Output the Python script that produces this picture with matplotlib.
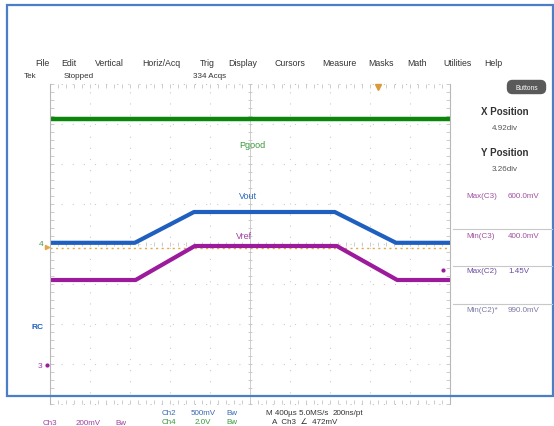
import numpy as np
import matplotlib.pyplot as plt
from matplotlib.patches import Rectangle, FancyBboxPatch

plt.rcParams['font.family'] = ['Liberation Sans', 'DejaVu Sans']

# time in divisions (400us/div), levels in divisions from screen centre
t_pgood = [0, 10]
pgood = [3.12, 3.12]
t_vout = [0, 2.12, 3.6, 7.12, 8.65, 10]
vout = [0.03, 0.03, 0.8, 0.8, 0.03, 0.03]
t_vref = [0, 2.14, 3.62, 7.17, 8.68, 10]
vref = [-0.9, -0.9, -0.05, -0.05, -0.9, -0.9]
trig_level = -0.1

menu = ['File', 'Edit', 'Vertical', 'Horiz/Acq', 'Trig', 'Display',
        'Cursors', 'Measure', 'Masks', 'Math', 'Utilities', 'Help']
menu_x = [42, 69, 109, 161, 207, 243, 290, 339, 381, 417, 457, 493]

meas_names = ['Max(C3)', 'Min(C3)', 'Max(C2)', 'Min(C2)*']
meas_vals = ['600.0mV', '400.0mV', '1.45V', '990.0mV']
meas_y = [197, 237, 272, 311]

GREEN = '#0a860a'
BLUE = '#1e5fbf'
PURPLE = '#9c1a9c'

fig = plt.figure(figsize=(5.54, 4.27), dpi=100)

ax = fig.add_axes([50 / 554, (427 - 405) / 427, 400 / 554, 320 / 427])
ax.set_xlim(0, 10)
ax.set_ylim(-4, 4)
for s in ['top', 'bottom']:
    ax.spines[s].set_visible(False)
for s in ['left', 'right']:
    ax.spines[s].set_color('#b8b8b8')
    ax.spines[s].set_linewidth(0.8)
ax.set_xticks([])
ax.set_yticks([])

# graticule
for x in range(1, 10):
    ax.axvline(x, color='#cccccc', lw=0.8, ls=(0, (1, 9)))
for y in range(-3, 4):
    ax.axhline(y, color='#cccccc', lw=0.8, ls=(0, (1, 9)))
for y in [-4, 4]:
    ax.axhline(y, color='#c0c0c0', lw=0.8, ls=(0, (1, 9)), clip_on=False)
ax.axvline(5, color='#c8c8c8', lw=0.6)
tick_c = '#c4c4c4'
mt = np.arange(0, 10.01, 0.2)
ax.plot(mt, np.full_like(mt, 0.0), '|', color=tick_c, ms=3, mew=0.6)
ax.plot(mt, np.full_like(mt, 3.95), '|', color=tick_c, ms=3, mew=0.6)
ax.plot(mt, np.full_like(mt, -3.95), '|', color=tick_c, ms=3, mew=0.6)
my = np.arange(-4, 4.01, 0.2)
ax.plot(np.full_like(my, 5), my, '_', color=tick_c, ms=3, mew=0.6)
ax.plot(np.full_like(my, 0.05), my, '_', color=tick_c, ms=3, mew=0.6)
ax.plot(np.full_like(my, 9.95), my, '_', color=tick_c, ms=3, mew=0.6)

ax.axhline(trig_level, color='#e0a848', lw=1.0, ls=(0, (1.5, 2.5)))

ax.plot(t_pgood, pgood, color=GREEN, lw=3.2, solid_capstyle='butt')
ax.plot(t_vout, vout, color=BLUE, lw=3.0, solid_capstyle='butt')
ax.plot(t_vref, vref, color=PURPLE, lw=3.0, solid_capstyle='butt')

ax.text(5.05, 2.5, 'Pgood', color='#3a9a3a', fontsize=6.5, ha='center', va='center')
ax.text(4.95, 1.2, 'Vout', color='#2a6ac0', fontsize=6.5, ha='center', va='center')
ax.text(4.85, 0.22, 'Vref', color='#a040a0', fontsize=6.5, ha='center', va='center')

# overlay for the screen furniture
ov = fig.add_axes([0, 0, 1, 1], zorder=5)
ov.set_xlim(0, 554)
ov.set_ylim(427, 0)
ov.axis('off')
ov.patch.set_alpha(0)

ov.add_patch(Rectangle((7, 6), 546, 391, fill=False, ec='#4a7fc8', lw=1.6))

for name, x in zip(menu, menu_x):
    ov.text(x, 63, name, fontsize=6.3, ha='center', va='center', color='#333333')
ov.text(30, 76, 'Tek', fontsize=5.8, ha='center', va='center', color='#333333')
ov.text(79, 76, 'Stopped', fontsize=5.8, ha='center', va='center', color='#333333')
ov.text(210, 76, '334 Acqs', fontsize=5.8, ha='center', va='center', color='#333333')
ov.plot([378], [88], marker='v', color='#d89a3a', ms=4)

ov.add_patch(FancyBboxPatch((510, 84), 33, 8, boxstyle='round,pad=2.5,rounding_size=5',
                            fc='#5a5a5a', ec='#5a5a5a'))
ov.text(526.5, 88, 'Buttons', fontsize=4.8, ha='center', va='center', color='white')
ov.text(505, 112, 'X Position', fontsize=7, ha='center', va='center',
        color='#333333', fontweight='bold')
ov.text(505, 129, '4.92div', fontsize=5.8, ha='center', va='center', color='#555555')
ov.text(505, 153, 'Y Position', fontsize=7, ha='center', va='center',
        color='#333333', fontweight='bold')
ov.text(505, 170, '3.26div', fontsize=5.8, ha='center', va='center', color='#555555')

meas_col = ['#a050a0', '#a050a0', '#6a4aa0', '#7a7aa8']
for name, val, y, c in zip(meas_names, meas_vals, meas_y, meas_col):
    ov.text(466, y, name, fontsize=5.8, ha='left', va='center', color=c)
    ov.text(508, y, val, fontsize=5.8, ha='left', va='center', color=c)
for y in [230, 267, 305]:
    ov.plot([453, 552], [y, y], color='#c8c8c8', lw=0.8)

ov.text(41, 245, '4', fontsize=6, ha='center', va='center', color='#4a9a4a')
ov.plot([47], [248], marker='>', color='#e0a848', ms=3)
ov.text(40, 367, '3', fontsize=6, ha='center', va='center', color='#a040a0')
ov.plot([47], [366], marker='o', color=PURPLE, ms=2)
ov.text(38, 328, 'RC', fontsize=6, ha='center', va='center', color=BLUE,
        fontweight='bold')
ov.plot([443], [271], marker='o', color=PURPLE, ms=2)

ov.text(169, 414, 'Ch2', fontsize=5.8, ha='center', va='center', color='#3a6ab0')
ov.text(203, 414, '500mV', fontsize=5.8, ha='center', va='center', color='#3a6ab0')
ov.text(232, 414, 'Bw', fontsize=5.8, ha='center', va='center', color='#3a6ab0')
ov.text(297, 414, 'M 400\u00b5s 5.0MS/s', fontsize=5.8, ha='center', va='center',
        color='#333333')
ov.text(348, 414, '200ns/pt', fontsize=5.8, ha='center', va='center', color='#333333')
ov.text(50, 424, 'Ch3', fontsize=5.8, ha='center', va='center', color='#a040a0')
ov.text(88, 424, '200mV', fontsize=5.8, ha='center', va='center', color='#a040a0')
ov.text(121, 424, 'Bw', fontsize=5.8, ha='center', va='center', color='#a040a0')
ov.text(169, 423, 'Ch4', fontsize=5.8, ha='center', va='center', color='#3a9a3a')
ov.text(203, 423, '2.0V', fontsize=5.8, ha='center', va='center', color='#3a9a3a')
ov.text(232, 423, 'Bw', fontsize=5.8, ha='center', va='center', color='#3a9a3a')
ov.text(305, 423, 'A  Ch3  \u2220  472mV', fontsize=5.8, ha='center', va='center',
        color='#333333')

fig.savefig('out.png', dpi=100)
